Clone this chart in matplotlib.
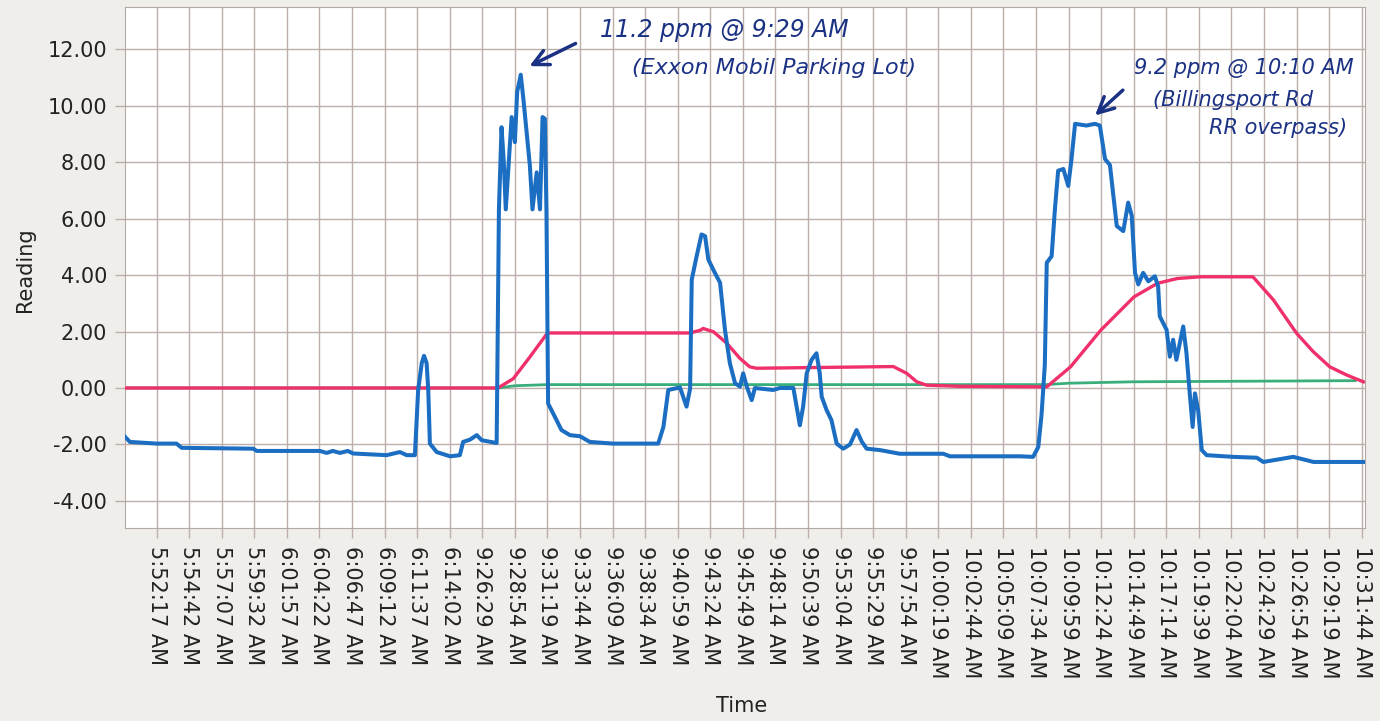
import numpy as np
import matplotlib.pyplot as plt

# x positions are in tick units (tick i = time_labels[i]); samples are evenly spaced
time_labels = ['5:52:17 AM', '5:54:42 AM', '5:57:07 AM', '5:59:32 AM', '6:01:57 AM',
               '6:04:22 AM', '6:06:47 AM', '6:09:12 AM', '6:11:37 AM', '6:14:02 AM',
               '9:26:29 AM', '9:28:54 AM', '9:31:19 AM', '9:33:44 AM', '9:36:09 AM',
               '9:38:34 AM', '9:40:59 AM', '9:43:24 AM', '9:45:49 AM', '9:48:14 AM',
               '9:50:39 AM', '9:53:04 AM', '9:55:29 AM', '9:57:54 AM', '10:00:19 AM',
               '10:02:44 AM', '10:05:09 AM', '10:07:34 AM', '10:09:59 AM', '10:12:24 AM',
               '10:14:49 AM', '10:17:14 AM', '10:19:39 AM', '10:22:04 AM', '10:24:29 AM',
               '10:26:54 AM', '10:29:19 AM', '10:31:44 AM']

blue_x = [-0.97, -0.82, 0.0, 0.61, 0.77, 2.97, 3.07, 5.01, 5.22, 5.41, 5.63, 5.87, 6.03,
          7.06, 7.47, 7.68, 7.93, 8.03, 8.14, 8.21, 8.29, 8.34, 8.39, 8.60, 9.01, 9.31,
          9.41, 9.62, 9.83, 9.98, 10.44, 10.51, 10.59, 10.66, 10.72, 10.90, 11.00, 11.07,
          11.18, 11.26, 11.46, 11.54, 11.67, 11.77, 11.85, 11.92, 11.97, 12.02, 12.28,
          12.43, 12.69, 13.00, 13.30, 14.02, 15.40, 15.56, 15.71, 16.07, 16.27, 16.38,
          16.43, 16.58, 16.73, 16.84, 16.94, 17.14, 17.30, 17.45, 17.60, 17.76, 17.91,
          18.01, 18.12, 18.27, 18.37, 18.93, 19.14, 19.55, 19.65, 19.75, 19.85, 19.96,
          20.11, 20.26, 20.36, 20.42, 20.57, 20.72, 20.88, 21.08, 21.29, 21.49, 21.65,
          21.80, 22.21, 22.82, 24.15, 24.36, 26.51, 26.91, 27.07, 27.17, 27.27, 27.33,
          27.48, 27.58, 27.68, 27.84, 27.99, 28.09, 28.20, 28.55, 28.81, 28.96, 29.12,
          29.27, 29.48, 29.68, 29.83, 29.94, 30.04, 30.14, 30.29, 30.45, 30.65, 30.75,
          30.80, 31.01, 31.11, 31.21, 31.31, 31.52, 31.62, 31.72, 31.81, 31.88, 31.98,
          32.09, 32.24, 33.06, 33.78, 33.98, 34.90, 35.52, 37.05]
blue_y = [-1.73, -1.91, -1.97, -1.97, -2.12, -2.15, -2.23, -2.23, -2.30, -2.23, -2.30,
          -2.23, -2.32, -2.38, -2.27, -2.38, -2.38, -0.07, 0.88, 1.14, 0.88, -0.07, -1.97,
          -2.27, -2.42, -2.38, -1.91, -1.83, -1.67, -1.85, -1.95, 6.33, 9.24, 8.0, 6.33,
          9.6, 8.71, 10.49, 11.1, 10.25, 7.88, 6.33, 7.64, 6.33, 9.6, 9.54, 6.22, -0.55,
          -1.14, -1.49, -1.67, -1.71, -1.91, -1.97, -1.97, -1.38, -0.07, 0.02, -0.66,
          -0.02, 3.84, 4.67, 5.44, 5.38, 4.55, 4.08, 3.73, 2.06, 0.88, 0.17, 0.05, 0.52,
          0.05, -0.43, 0.0, -0.07, 0.0, 0.0, -0.66, -1.32, -0.66, 0.52, 1.0, 1.23, 0.52,
          -0.31, -0.78, -1.14, -1.97, -2.15, -2.0, -1.49, -1.9, -2.15, -2.2, -2.33, -2.33,
          -2.42, -2.42, -2.44, -2.09, -0.95, 0.8, 4.44, 4.67, 6.33, 7.7, 7.76, 7.16, 8.11,
          9.36, 9.3, 9.36, 9.3, 8.11, 7.9, 5.74, 5.56, 6.57, 6.1, 4.08, 3.67, 4.08, 3.78,
          3.96, 3.6, 2.54, 2.06, 1.11, 1.71, 1.0, 2.18, 1.23, -0.19, -1.38, -0.19, -0.8,
          -2.2, -2.38, -2.44, -2.47, -2.62, -2.44, -2.62, -2.62]

red_x = [-0.97, 10.48, 10.95, 11.46, 11.97, 12.02, 16.38, 16.70, 16.78, 17.10, 17.51,
         17.91, 18.21, 18.42, 22.62, 23.03, 23.34, 23.64, 24.66, 27.33, 28.06, 28.99,
         30.01, 30.73, 31.34, 32.04, 33.66, 34.29, 35.0, 35.51, 36.02, 36.54, 37.05]
red_y = [0.0, 0.0, 0.33, 1.10, 1.90, 1.95, 1.95, 2.05, 2.11, 1.99, 1.58, 1.05, 0.75,
         0.70, 0.76, 0.52, 0.22, 0.10, 0.06, 0.04, 0.75, 2.05, 3.23, 3.71, 3.88, 3.94,
         3.94, 3.12, 1.94, 1.29, 0.75, 0.46, 0.22]

green_x = [-0.97, 10.48, 11.0, 12.0, 27.3, 28.0, 30.0, 36.8]
green_y = [0.0, 0.0, 0.08, 0.12, 0.12, 0.17, 0.22, 0.26]

y_ticks = [-4, -2, 0, 2, 4, 6, 8, 10, 12]

navy = '#1a3184'
gridc = '#bcaea9'

fig = plt.figure(figsize=(13.8, 7.21), dpi=100, facecolor='#efeeeb')
ax = fig.add_axes([0.0906, 0.2677, 0.8985, 0.7226])
ax.set_facecolor('white')

ax.plot(green_x, green_y, color='#3aae7a', lw=2.0, zorder=2)
ax.plot(red_x, red_y, color='#f0306a', lw=2.4, zorder=3)
ax.plot(blue_x, blue_y, color='#1b6ec2', lw=2.9, zorder=4, solid_joinstyle='round')

ax.set_xlim(-0.97, 37.1)
ax.set_ylim(-4.96, 13.5)
ax.set_xticks(range(len(time_labels)))
ax.set_xticklabels(time_labels, rotation=-90, fontsize=15, color='#222222')
ax.set_yticks(y_ticks)
ax.set_yticklabels(['%.2f' % v for v in y_ticks], fontsize=15, color='#222222')
ax.tick_params(length=7, width=1, color=gridc, pad=6)
ax.set_axisbelow(True)
ax.grid(color=gridc, lw=1.0)
for s in ax.spines.values():
    s.set_color('#b3a8a4')

fig.text(25 / 1380, 1 - 270 / 721, 'Reading', rotation=90, ha='center', va='center',
         fontsize=15, color='#222222')
fig.text(742 / 1380, 1 - 706 / 721, 'Time', ha='center', va='center',
         fontsize=15, color='#222222')

# hand-written notes
ax.annotate('', xy=(11.37, 11.36), xytext=(12.94, 12.25),
            arrowprops=dict(arrowstyle='->', color=navy, lw=2.5, mutation_scale=28))
ax.text(13.6, 12.67, '11.2 ppm @ 9:29 AM', color=navy, fontsize=17,
        va='center', style='italic')
ax.text(14.6, 11.33, '(Exxon Mobil Parking Lot)', color=navy, fontsize=16,
        va='center', style='italic')

ax.annotate('', xy=(28.75, 9.59), xytext=(29.73, 10.62),
            arrowprops=dict(arrowstyle='->', color=navy, lw=2.5, mutation_scale=28))
ax.text(30.0, 11.33, '9.2 ppm @ 10:10 AM', color=navy, fontsize=15,
        va='center', style='italic', clip_on=False)
ax.text(30.6, 10.19, '(Billingsport Rd', color=navy, fontsize=15,
        va='center', style='italic')
ax.text(32.3, 9.2, 'RR overpass)', color=navy, fontsize=15,
        va='center', style='italic')

fig.savefig('out.png', dpi=100, facecolor=fig.get_facecolor())
